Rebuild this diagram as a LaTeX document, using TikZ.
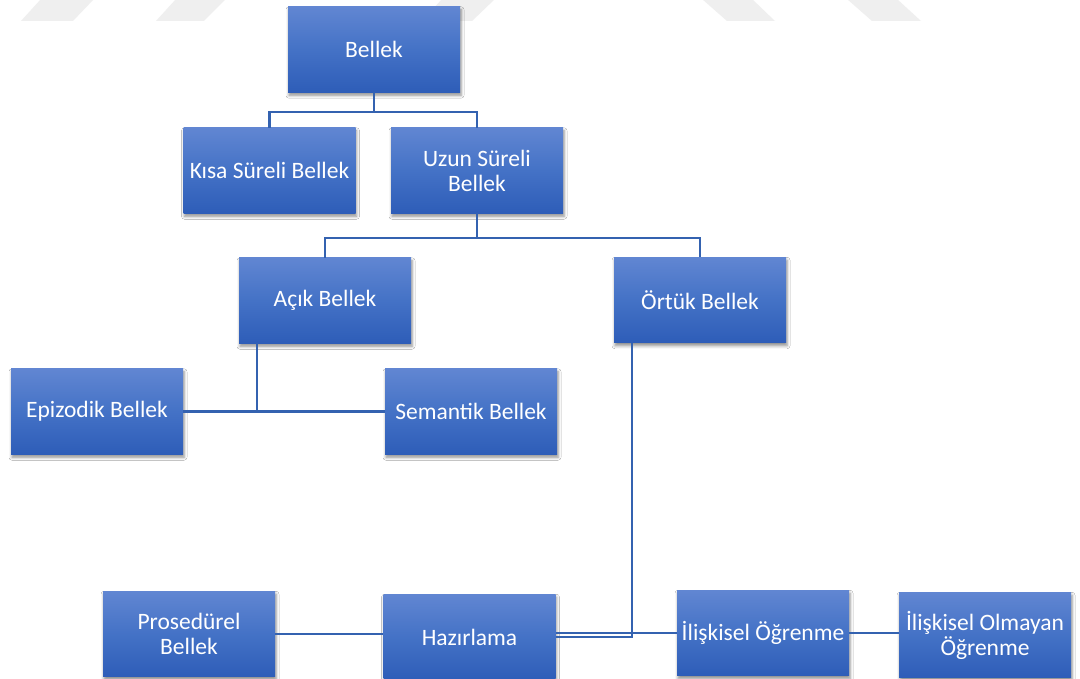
\documentclass[tikz,border=0pt]{standalone}
\usepackage{fontspec}
\setmainfont{Carlito}
\usetikzlibrary{shadows.blur}
\definecolor{boxtop}{RGB}{97,134,210}
\definecolor{boxmid}{RGB}{68,114,198}
\definecolor{boxbot}{RGB}{46,93,184}
\definecolor{linkblue}{RGB}{52,98,176}
\definecolor{wmgray}{RGB}{239,239,239}
\tikzset{
  box/.style={rectangle, minimum width=172pt, minimum height=85.5pt, inner sep=0pt,
    top color=boxtop, bottom color=boxbot, middle color=boxmid, draw=none,
    text=white, align=center,
    font=\fontsize{23.5pt}{25pt}\selectfont,
    blur shadow={shadow xshift=1pt, shadow yshift=-3pt, shadow blur radius=3pt, shadow opacity=45}},
  link/.style={draw=linkblue, line width=2.6pt},
  wm/.style={fill=wmgray, draw=none}
}
\begin{document}
\begin{tikzpicture}[x=1pt, y={(0pt,-1pt)}]
\useasboundingbox (0,0) rectangle (1080,679);
\fill[white] (0,0) rectangle (1080,679);
% watermark shapes
\fill[wm] (21,21) -- (73,21) -- (94,-1) -- (41,-1) -- cycle;
\fill[wm] (156,21) -- (204,21) -- (226,-1) -- (176,-1) -- cycle;
\fill[wm] (422,21) -- (472,21) -- (495,-1) -- (442,-1) -- cycle;
\fill[wm] (727,21) -- (775,21) -- (752,-1) -- (702,-1) -- cycle;
\fill[wm] (872,21) -- (921,21) -- (897,-1) -- (847,-1) -- cycle;
% junction coordinates
\coordinate (j1) at (374,112);
\coordinate (j2) at (477,238);
\coordinate (j3) at (257,411);
\coordinate (j4) at (632,637);
% boxes
\node[box] (bellek) at (374,49.5) {Bellek};
\node[box] (kisa) at (269.5,170.5) {Kısa Süreli Bellek};
\node[box] (uzun) at (477,170.5) {Uzun Süreli\\Bellek};
\node[box] (acik) at (325,300.5) {Açık Bellek};
\node[box] (ortuk) at (700,300) {Örtük Bellek};
\node[box] (epi) at (97,411.5) {Epizodik Bellek};
\node[box] (sem) at (471,411.5) {Semantik Bellek};
\node[box] (pro) at (189,634) {Prosedürel\\Bellek};
\node[box] (haz) at (469.5,637) {Hazırlama};
\node[box] (ili) at (763,633) {İlişkisel Öğrenme};
\node[box] (iol) at (985,635) {İlişkisel Olmayan\\Öğrenme};
% connectors
\draw[link] (bellek.south) -- (j1);
\draw[link] (kisa.north) |- (j1) -| (uzun.north);
\draw[link] (uzun.south) -- (j2);
\draw[link] (acik.north) |- (j2) -| (ortuk.north);
\draw[link] (epi.east) -- (sem.west);
\draw[link] (acik.south -| j3) -- (j3);
\draw[link] (ortuk.south -| j4) -- (j4) -- (j4 -| haz.east);
\draw[link] (haz.east |- ili.west) -- (ili.west);
\draw[link] (pro.east) -- (pro.east -| haz.west);
\draw[link] (ili.east) -- (ili.east -| iol.west);
\end{tikzpicture}
\end{document}
